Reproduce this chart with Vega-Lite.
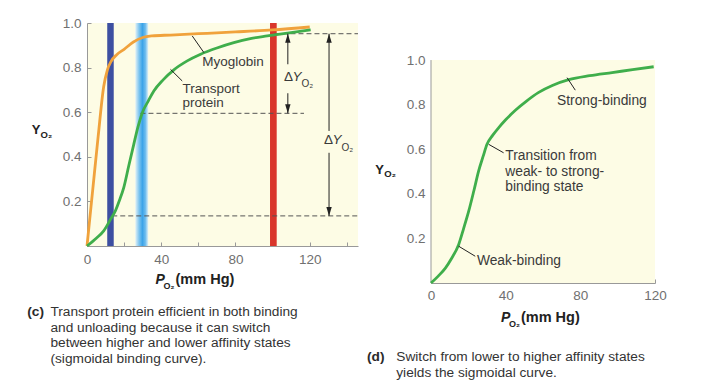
{
  "$schema": "https://vega.github.io/schema/vega-lite/v6.json",
  "background": "white",
  "padding": {"left": 27, "top": 16, "right": 5, "bottom": 5},
  "spacing": 7,
  "config": {
    "font": "Liberation Sans",
    "view": {"stroke": null, "fill": "#fdfce5"},
    "axis": {"grid": false, "domainColor": "#999999", "tickColor": "#999999", "labelColor": "#707070", "labelFont": "Liberation Sans", "labelFontSize": 13.5, "tickSize": -4, "labelFlush": false, "zindex": 1}
  },
  "hconcat": [
    {
      "width": 271,
      "height": 223,
      "encoding": {
        "x": {"field": "x", "type": "quantitative", "scale": {"domain": [0, 146], "nice": false, "zero": false},
          "axis": {"values": [0, 20, 40, 60, 80, 100, 120, 140], "labelExpr": "datum.value % 40 === 0 ? datum.label : ''", "title": null, "labelPadding": 10}},
        "y": {"field": "y", "type": "quantitative", "scale": {"domain": [0, 1], "nice": false},
          "axis": {"values": [0.2, 0.4, 0.6, 0.8, 1.0], "format": ".1f", "title": null, "labelPadding": 10}}
      },
      "layer": [
        {"data": {"values": [{"x": 10.9, "x2": 14.4, "y": 0, "y2": 1}]}, "mark": {"type": "rect", "fill": "#3d4fa1"}, "encoding": {"x2": {"field": "x2"}, "y2": {"field": "y2"}}},
        {"data": {"values": [{"x": 98.6, "x2": 102.2, "y": 0, "y2": 1}]}, "mark": {"type": "rect", "fill": "#d9362b"}, "encoding": {"x2": {"field": "x2"}, "y2": {"field": "y2"}}},
        {"data": {"values": [{"x": 26, "x2": 33, "y": 0, "y2": 1}]}, "mark": {"type": "rect", "fill": {"gradient": "linear", "x1": 0, "x2": 1, "y1": 0, "y2": 0, "stops": [{"offset": 0, "color": "#e3f2f6"}, {"offset": 0.3, "color": "#7cc4ef"}, {"offset": 0.55, "color": "#3ba3e8"}, {"offset": 0.78, "color": "#6dbcee"}, {"offset": 1, "color": "#e3f2f6"}]}}, "encoding": {"x2": {"field": "x2"}, "y2": {"field": "y2"}}},
        {"data": {"values": [{"x": 101, "x2": 146, "y": 0.952}, {"x": 28.8, "x2": 116.9, "y": 0.595}, {"x": 13.6, "x2": 146, "y": 0.135}]},
          "mark": {"type": "rule", "strokeDash": [5, 3], "color": "#555555", "strokeWidth": 1}, "encoding": {"x2": {"field": "x2"}}},
        {"data": {"values": [
          {"s": "Myoglobin", "x": 0, "y": 0}, {"s": "Myoglobin", "x": 3, "y": 0.245}, {"s": "Myoglobin", "x": 6, "y": 0.49}, {"s": "Myoglobin", "x": 9, "y": 0.715}, {"s": "Myoglobin", "x": 11, "y": 0.79}, {"s": "Myoglobin", "x": 13, "y": 0.828}, {"s": "Myoglobin", "x": 16, "y": 0.858}, {"s": "Myoglobin", "x": 20, "y": 0.882}, {"s": "Myoglobin", "x": 25, "y": 0.915}, {"s": "Myoglobin", "x": 30, "y": 0.935}, {"s": "Myoglobin", "x": 35, "y": 0.942}, {"s": "Myoglobin", "x": 45, "y": 0.946}, {"s": "Myoglobin", "x": 60, "y": 0.952}, {"s": "Myoglobin", "x": 80, "y": 0.96}, {"s": "Myoglobin", "x": 100, "y": 0.969}, {"s": "Myoglobin", "x": 120, "y": 0.982},
          {"s": "Transport protein", "x": 0, "y": 0}, {"s": "Transport protein", "x": 5, "y": 0.035}, {"s": "Transport protein", "x": 9, "y": 0.068}, {"s": "Transport protein", "x": 12.7, "y": 0.12}, {"s": "Transport protein", "x": 15.4, "y": 0.16}, {"s": "Transport protein", "x": 17.5, "y": 0.205}, {"s": "Transport protein", "x": 19.8, "y": 0.262}, {"s": "Transport protein", "x": 22.5, "y": 0.36}, {"s": "Transport protein", "x": 25.2, "y": 0.456}, {"s": "Transport protein", "x": 27.5, "y": 0.535}, {"s": "Transport protein", "x": 29.8, "y": 0.598}, {"s": "Transport protein", "x": 33, "y": 0.65}, {"s": "Transport protein", "x": 36, "y": 0.695}, {"s": "Transport protein", "x": 41, "y": 0.745}, {"s": "Transport protein", "x": 46.8, "y": 0.79}, {"s": "Transport protein", "x": 54, "y": 0.83}, {"s": "Transport protein", "x": 61.2, "y": 0.86}, {"s": "Transport protein", "x": 70, "y": 0.888}, {"s": "Transport protein", "x": 79.1, "y": 0.912}, {"s": "Transport protein", "x": 88, "y": 0.93}, {"s": "Transport protein", "x": 97.1, "y": 0.942}, {"s": "Transport protein", "x": 108, "y": 0.955}, {"s": "Transport protein", "x": 120.5, "y": 0.969}
        ]},
          "mark": {"type": "line", "interpolate": "monotone", "strokeWidth": 2.8},
          "encoding": {"color": {"field": "s", "type": "nominal", "scale": {"domain": ["Myoglobin", "Transport protein"], "range": ["#f0a23c", "#3fae4b"]}, "legend": null}}},
        {"data": {"values": [
          {"x": 108.2, "y": 0.952, "x2": 108.2, "y2": 0.815}, {"x": 108.2, "y": 0.685, "x2": 108.2, "y2": 0.595},
          {"x": 130.4, "y": 0.952, "x2": 130.4, "y2": 0.516}, {"x": 130.4, "y": 0.418, "x2": 130.4, "y2": 0.135},
          {"x": 56.7, "y": 0.942, "x2": 63, "y2": 0.867}, {"x": 45, "y": 0.792, "x2": 51.3, "y2": 0.74}
        ]}, "mark": {"type": "rule", "color": "#222222", "strokeWidth": 1}, "encoding": {"x2": {"field": "x2"}, "y2": {"field": "y2"}}},
        {"data": {"values": [{"x": 108.2, "y": 0.952}, {"x": 130.4, "y": 0.952}]}, "mark": {"type": "point", "shape": "M0,0L-0.3,1L0.3,1Z", "filled": true, "size": 324, "color": "#222222", "opacity": 1, "strokeWidth": 0}},
        {"data": {"values": [{"x": 108.2, "y": 0.595}, {"x": 130.4, "y": 0.135}]}, "mark": {"type": "point", "shape": "M0,0L-0.3,-1L0.3,-1Z", "filled": true, "size": 324, "color": "#222222", "opacity": 1, "strokeWidth": 0}},
        {"data": {"values": [{"x": 62.1, "y": 0.857, "t": "Myoglobin"}, {"x": 51.5, "y": 0.737, "t": "Transport\nprotein"}, {"x": 106.1, "y": 0.789, "t": "Δ"}, {"x": 127.7, "y": 0.5045, "t": "Δ"}]},
          "mark": {"type": "text", "align": "left", "baseline": "top", "fontSize": 13.5, "color": "#3a3a3a", "lineBreak": "\n", "lineHeight": 14.5}, "encoding": {"text": {"field": "t"}}},
        {"data": {"values": [{"x": 110.7, "y": 0.789, "t": "Y"}, {"x": 132.3, "y": 0.5045, "t": "Y"}]},
          "mark": {"type": "text", "align": "left", "baseline": "top", "fontSize": 13.5, "fontStyle": "italic", "color": "#3a3a3a"}, "encoding": {"text": {"field": "t"}}},
        {"data": {"values": [{"x": 115.6, "y": 0.749, "t": "O₂"}, {"x": 137.1, "y": 0.464, "t": "O₂"}]},
          "mark": {"type": "text", "align": "left", "baseline": "top", "fontSize": 10, "color": "#3a3a3a"}, "encoding": {"text": {"field": "t"}}},
        {"data": {"values": [{"x": -29.8, "y": 0.545, "t": "Y"}]},
          "mark": {"type": "text", "align": "left", "baseline": "top", "fontSize": 13, "fontWeight": "bold", "color": "#222222"}, "encoding": {"text": {"field": "t"}}},
        {"data": {"values": [{"x": -25.0, "y": 0.52, "t": "O₂"}]},
          "mark": {"type": "text", "align": "left", "baseline": "top", "fontSize": 9.5, "fontWeight": "bold", "color": "#222222"}, "encoding": {"text": {"field": "t"}}},
        {"data": {"values": [{"x": 41.24, "y": -0.161, "t": "O₂"}]},
          "mark": {"type": "text", "align": "left", "baseline": "top", "fontSize": 9, "fontWeight": "bold", "color": "#222222"}, "encoding": {"text": {"field": "t"}}},
        {"data": {"values": [{"x": 36.93, "y": -0.119, "t": "P"}]},
          "mark": {"type": "text", "align": "left", "baseline": "top", "fontSize": 14, "fontWeight": "bold", "fontStyle": "italic", "color": "#222222"}, "encoding": {"text": {"field": "t"}}},
        {"data": {"values": [{"x": 47.7, "y": -0.119, "t": "(mm Hg)"}]},
          "mark": {"type": "text", "align": "left", "baseline": "top", "fontSize": 14.5, "fontWeight": "bold", "color": "#222222"}, "encoding": {"text": {"field": "t"}}},
        {"data": {"values": [{"x": -32.2, "y": -0.2646, "t": "(c)"}]},
          "mark": {"type": "text", "align": "left", "baseline": "top", "fontSize": 13.7, "fontWeight": "bold", "color": "#2a2a2a"}, "encoding": {"text": {"field": "t"}}},
        {"data": {"values": [{"x": -19.7, "y": -0.2646, "t": "Transport protein efficient in both binding\nand unloading because it can switch\nbetween higher and lower affinity states\n(sigmoidal binding curve)."}]},
          "mark": {"type": "text", "align": "left", "baseline": "top", "fontSize": 13.7, "color": "#333333", "lineBreak": "\n", "lineHeight": 15.5}, "encoding": {"text": {"field": "t"}}}
      ]
    },
    {
      "width": 224,
      "height": 260,
      "view": {"fill": null, "stroke": null},
      "encoding": {
        "x": {"field": "x", "type": "quantitative", "scale": {"domain": [0, 120], "nice": false, "zero": false},
          "axis": {"values": [0, 20, 40, 60, 80, 100, 120], "labelExpr": "datum.value % 40 === 0 ? datum.label : ''", "title": null, "labelPadding": 9}},
        "y": {"field": "y", "type": "quantitative", "scale": {"domain": [0, 1.1663], "nice": false},
          "axis": {"values": [0.2, 0.4, 0.6, 0.8, 1.0], "format": ".1f", "title": null, "labelPadding": 10, "domain": false}}
      },
      "layer": [
        {"data": {"values": [{"x": 0, "x2": 120, "y": 0, "y2": 1}]}, "mark": {"type": "rect", "fill": "#fdfce5"}, "encoding": {"x2": {"field": "x2"}, "y2": {"field": "y2"}}},
        {"data": {"values": [{"x": 0, "y": 0, "y2": 1}]}, "mark": {"type": "rule", "color": "#999999", "strokeWidth": 1}, "encoding": {"y2": {"field": "y2"}}},
        {"data": {"values": [
          {"x": 0, "y": 0}, {"x": 4, "y": 0.032}, {"x": 7.7, "y": 0.067}, {"x": 11, "y": 0.11}, {"x": 14.8, "y": 0.172}, {"x": 17.5, "y": 0.245}, {"x": 20.2, "y": 0.322}, {"x": 23, "y": 0.415}, {"x": 25.5, "y": 0.502}, {"x": 28, "y": 0.57}, {"x": 30, "y": 0.622}, {"x": 33, "y": 0.662}, {"x": 36.3, "y": 0.697}, {"x": 40, "y": 0.732}, {"x": 45.2, "y": 0.775}, {"x": 51, "y": 0.815}, {"x": 57.7, "y": 0.855}, {"x": 65, "y": 0.886}, {"x": 73.8, "y": 0.912}, {"x": 85, "y": 0.93}, {"x": 97, "y": 0.944}, {"x": 108, "y": 0.957}, {"x": 119.3, "y": 0.97}
        ]}, "mark": {"type": "line", "interpolate": "monotone", "strokeWidth": 2.8, "color": "#3fae4b"}},
        {"data": {"values": [
          {"x": 72.9, "y": 0.921, "x2": 77.3, "y2": 0.865}, {"x": 30.9, "y": 0.622, "x2": 38.9, "y2": 0.584}, {"x": 14.8, "y": 0.165, "x2": 23.7, "y2": 0.12}
        ]}, "mark": {"type": "rule", "color": "#222222", "strokeWidth": 1}, "encoding": {"x2": {"field": "x2"}, "y2": {"field": "y2"}}},
        {"data": {"values": [{"x": 67.5, "y": 0.849, "t": "Strong-binding"}, {"x": 39.8, "y": 0.6, "t": "Transition from\nweak- to strong-\nbinding state"}, {"x": 24.6, "y": 0.13, "t": "Weak-binding"}]},
          "mark": {"type": "text", "align": "left", "baseline": "top", "fontSize": 13.8, "color": "#3a3a3a", "lineBreak": "\n", "lineHeight": 15.5}, "encoding": {"text": {"field": "t"}}},
        {"data": {"values": [{"x": -29.8, "y": 0.536, "t": "Y"}]},
          "mark": {"type": "text", "align": "left", "baseline": "top", "fontSize": 13, "fontWeight": "bold", "color": "#222222"}, "encoding": {"text": {"field": "t"}}},
        {"data": {"values": [{"x": -25.0, "y": 0.511, "t": "O₂"}]},
          "mark": {"type": "text", "align": "left", "baseline": "top", "fontSize": 9.5, "fontWeight": "bold", "color": "#222222"}, "encoding": {"text": {"field": "t"}}},
        {"data": {"values": [{"x": 41.78, "y": -0.168, "t": "O₂"}]},
          "mark": {"type": "text", "align": "left", "baseline": "top", "fontSize": 9, "fontWeight": "bold", "color": "#222222"}, "encoding": {"text": {"field": "t"}}},
        {"data": {"values": [{"x": 37.49, "y": -0.125, "t": "P"}]},
          "mark": {"type": "text", "align": "left", "baseline": "top", "fontSize": 14, "fontWeight": "bold", "fontStyle": "italic", "color": "#222222"}, "encoding": {"text": {"field": "t"}}},
        {"data": {"values": [{"x": 48.2, "y": -0.125, "t": "(mm Hg)"}]},
          "mark": {"type": "text", "align": "left", "baseline": "top", "fontSize": 14.5, "fontWeight": "bold", "color": "#222222"}, "encoding": {"text": {"field": "t"}}},
        {"data": {"values": [{"x": -34.3, "y": -0.3025, "t": "(d)"}]},
          "mark": {"type": "text", "align": "left", "baseline": "top", "fontSize": 13.7, "fontWeight": "bold", "color": "#2a2a2a"}, "encoding": {"text": {"field": "t"}}},
        {"data": {"values": [{"x": -18.6, "y": -0.3025, "t": "Switch from lower to higher affinity states\nyields the sigmoidal curve."}]},
          "mark": {"type": "text", "align": "left", "baseline": "top", "fontSize": 13.7, "color": "#333333", "lineBreak": "\n", "lineHeight": 15.5}, "encoding": {"text": {"field": "t"}}}
      ]
    }
  ]
}
